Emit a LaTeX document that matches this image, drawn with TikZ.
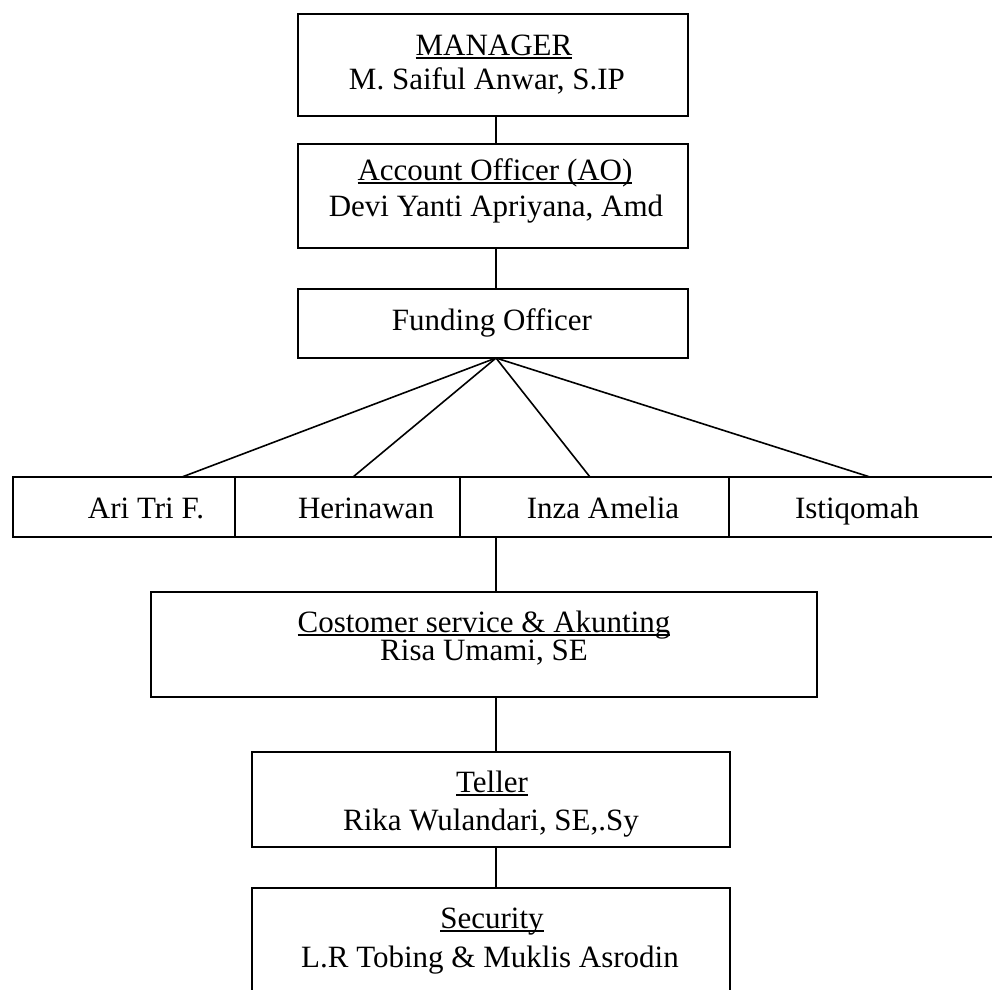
\documentclass[tikz,border=0pt]{standalone}
\usepackage{fontspec}
\setmainfont{Liberation Serif}
\newcommand{\uln}[1]{\setbox0\hbox{#1}\rlap{\rule[-4pt]{\wd0}{1.6pt}}\box0}
\begin{document}
\begin{tikzpicture}[x=1pt,y=-1pt,
  box/.style={draw,line width=1.6pt,inner sep=0pt,outer sep=0pt,rectangle},
  lbl/.style={anchor=base,inner sep=0pt,font=\fontsize{31pt}{36pt}\selectfont},
  conn/.style={line width=1.6pt}]
\useasboundingbox (0,0) rectangle (992,989);
\clip (0,0) rectangle (992,989);
% boxes
\node[box,minimum width=390pt,minimum height=102pt] (mgr) at (493,65) {};
\node[box,minimum width=390pt,minimum height=104pt] (ao) at (493,196) {};
\node[box,minimum width=390pt,minimum height=69pt] (fo) at (493,323.5) {};
\node[box,minimum width=222pt,minimum height=60pt] (ari) at (124,507) {};
\node[box,minimum width=225pt,minimum height=60pt] (heri) at (347.5,507) {};
\node[box,minimum width=269pt,minimum height=60pt] (inza) at (594.5,507) {};
\node[box,minimum width=281pt,minimum height=60pt] (ist) at (869.5,507) {};
\node[box,minimum width=666pt,minimum height=105pt] (cs) at (484,644.5) {};
\node[box,minimum width=478pt,minimum height=95pt] (tel) at (491,799.5) {};
\node[box,minimum width=478pt,minimum height=122pt] (sec) at (491,949) {};
% texts
\node[lbl] (t1) at (494,55) {\uln{MANAGER}};
\node[lbl] (t2) at (487,89) {M. Saiful Anwar, S.IP};
\node[lbl] (t3) at (495,180) {\uln{Account Officer (AO)}};
\node[lbl] (t4) at (496,216) {Devi Yanti Apriyana, Amd};
\node[lbl] (t5) at (492,330) {Funding Officer};
\node[lbl] (t6) at (146,518) {Ari Tri F.};
\node[lbl] (t7) at (366,518) {Herinawan};
\node[lbl] (t8) at (603,518) {Inza Amelia};
\node[lbl] (t9) at (857,518) {Istiqomah};
\node[lbl] (t10) at (484,632) {\uln{Costomer service \& Akunting}};
\node[lbl] (t11) at (484,660) {Risa Umami, SE};
\node[lbl] (t12) at (492,792) {\uln{Teller}};
\node[lbl] (t13) at (491,830) {Rika Wulandari, SE,.Sy};
\node[lbl] (t14) at (492,928) {\uln{Security}};
\node[lbl] (t15) at (490,967) {L.R Tobing \& Muklis Asrodin};
% connectors
\coordinate (spine) at (496,0);
\coordinate (fa) at (182,477);
\coordinate (fh) at (353,477);
\coordinate (fi) at (590,477);
\coordinate (fs) at (870,477);
\draw[conn] (mgr.south -| spine) -- (ao.north -| spine);
\draw[conn] (ao.south -| spine) -- (fo.north -| spine);
\draw[conn] (fo.south -| spine) -- (fa);
\draw[conn] (fo.south -| spine) -- (fh);
\draw[conn] (fo.south -| spine) -- (fi);
\draw[conn] (fo.south -| spine) -- (fs);
\draw[conn] (inza.south -| spine) -- (cs.north -| spine);
\draw[conn] (cs.south -| spine) -- (tel.north -| spine);
\draw[conn] (tel.south -| spine) -- (sec.north -| spine);
\end{tikzpicture}
\end{document}
